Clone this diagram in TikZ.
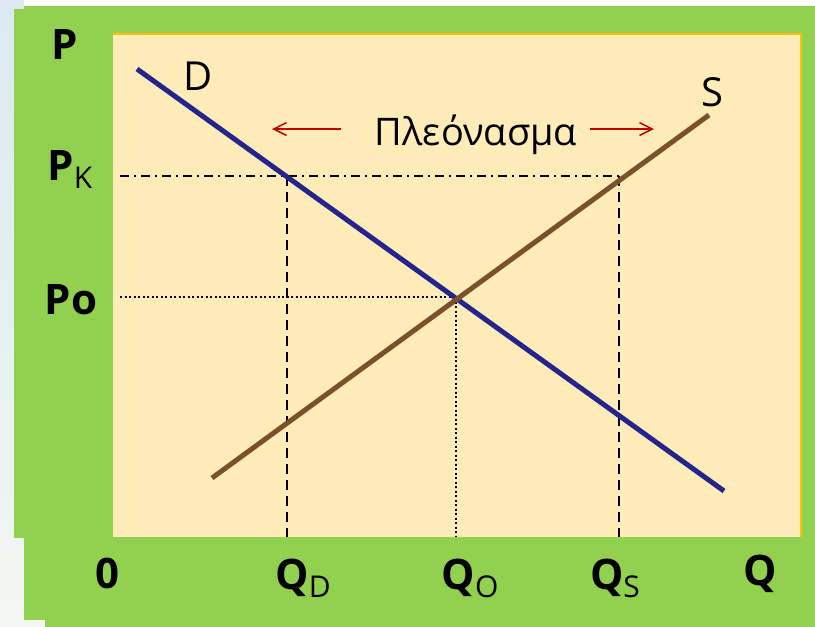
\documentclass[tikz,border=0pt]{standalone}
\usepackage{fontspec}
\setmainfont{Open Sans}
\usepackage{tikz}
\usetikzlibrary{arrows.meta,positioning,calc}
\definecolor{leafgreen}{RGB}{146,208,80}
\definecolor{cream}{RGB}{255,236,184}
\definecolor{gold}{RGB}{255,192,0}
\definecolor{navy}{RGB}{36,36,140}
\definecolor{brown2}{RGB}{123,81,45}
\definecolor{red2}{RGB}{192,0,0}
\definecolor{mist}{RGB}{218,234,240}
\definecolor{paper}{RGB}{244,246,242}
\tikzset{
  axislabel/.style={font=\fontsize{42}{46}\selectfont\bfseries, inner sep=0pt},
  curvelabel/.style={font=\fontsize{40}{44}\selectfont, inner sep=0pt},
  textlabel/.style={font=\fontsize{38}{42}\selectfont, inner sep=0pt},
  curve/.style={line width=5pt},
  guide/.style={line width=2.2pt, dash pattern=on 10pt off 6pt},
  dotguide/.style={line width=2.2pt, dash pattern=on 2pt off 2.5pt},
  dashdot/.style={line width=2.2pt, dash pattern=on 9pt off 5pt on 2pt off 5pt},
  surplus/.style={-{Straight Barb[length=4.5mm,width=4.5mm]}, line width=1.5pt, draw=red2}
}
\newcommand{\sublabel}[1]{\raisebox{-8pt}{\fontsize{30}{32}\selectfont\mdseries #1}}
\begin{document}
\begin{tikzpicture}[x=1pt,y=-1pt]
\useasboundingbox (0,0) rectangle (815,627);
% background and frame
\shade[top color=mist, bottom color=paper] (0,0) rectangle (815,627);
\fill[white] (24,0) rectangle (815,6);
\fill[leafgreen] (24,6) rectangle (815,620);
\fill[leafgreen] (14,9) rectangle (24,538);
\fill[leafgreen] (45,620) rectangle (815,627);
\fill[cream] (113,34) rectangle (801,537);
\draw[gold, line width=2pt] (113,34) -- (801,34) -- (801,537);

% points
\coordinate (d1) at (137,69);
\coordinate (d2) at (724,491);
\coordinate (s1) at (212,478);
\coordinate (s2) at (709,115);
\coordinate (eq) at (456,297);
\coordinate (kd) at (287,176);
\coordinate (ks) at (619,176);
\coordinate (pk) at (120,176);
\coordinate (po) at (120,297);

% guide lines
\draw[dashdot] (pk) -- (ks);
\draw[dotguide] (po) -- (eq);
\draw[guide] (kd) -- (kd |- 0,537);
\draw[guide] (ks) -- (ks |- 0,537);
\draw[dotguide] (eq) -- (eq |- 0,537);

% demand and supply
\draw[curve, navy] (d1) -- (d2);
\draw[curve, brown2] (s1) -- (s2);

% labels
\node[axislabel] (p) at (65,45) {P};
\node[axislabel] (pkl) at (70,170) {P\sublabel{K}};
\node[axislabel] (pol) at (71,300) {Po};
\node[axislabel] (zero) at (107,573) {0};
\node[axislabel] (qd) at (303,578) {Q\sublabel{D}};
\node[axislabel] (qo) at (470,578) {Q\sublabel{O}};
\node[axislabel] (qs) at (615,578) {Q\sublabel{S}};
\node[axislabel] (q) at (760,574) {Q};
\node[curvelabel] (dl) at (198,76) {D};
\node[curvelabel] (sl) at (712,92) {S};
\node[textlabel] (pleon) at (476,135) {Πλεόνασμα};

% surplus arrows
\coordinate (la) at (341,129);
\coordinate (ra) at (590,129);
\draw[surplus] (la) -- (272,129);
\draw[surplus] (ra) -- (654,129);
\end{tikzpicture}
\end{document}
